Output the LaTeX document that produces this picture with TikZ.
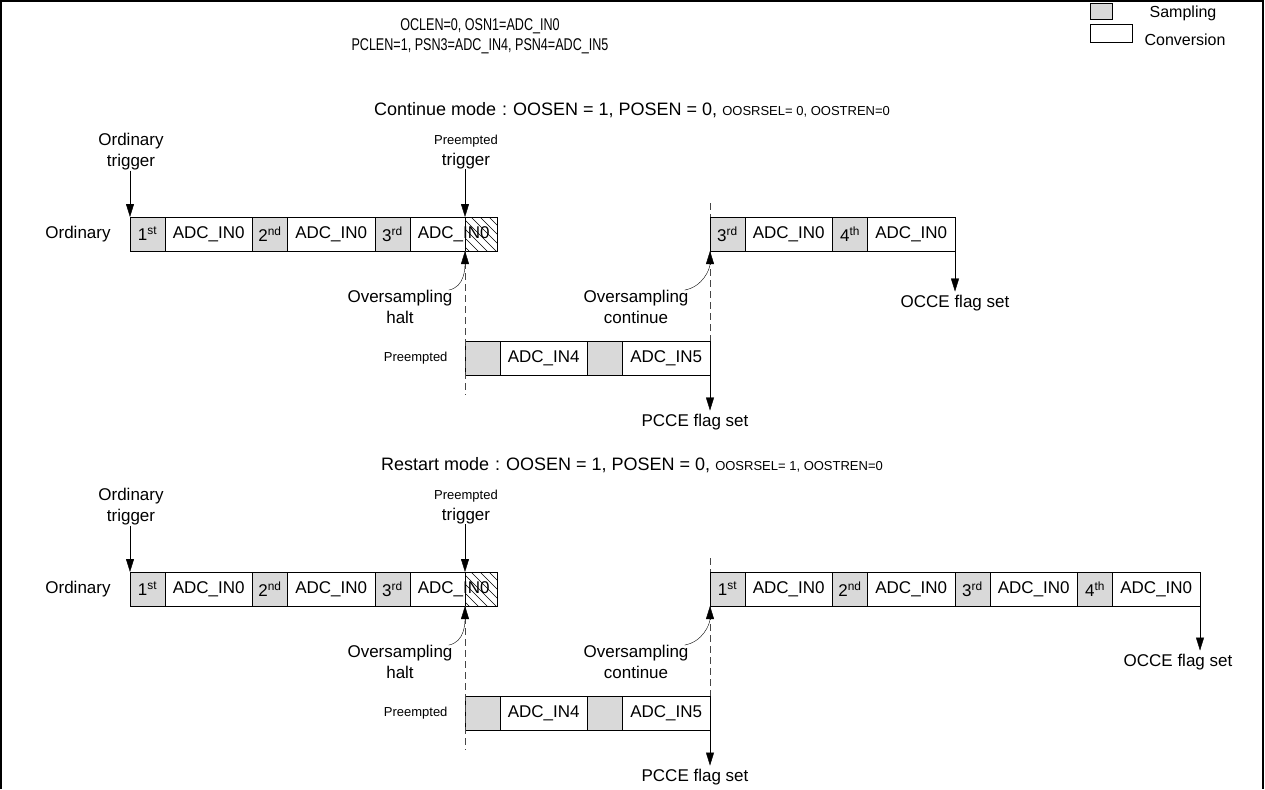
\documentclass[tikz,border=0pt]{standalone}
\usepackage{fontspec}
\setmainfont{Liberation Sans}
\usetikzlibrary{arrows.meta,positioning}
\definecolor{sampgray}{RGB}{217,217,217}
\definecolor{dashgray}{RGB}{70,70,70}
\newcommand{\smalltxt}{\fontsize{13}{15}\selectfont}
\newcommand{\narrowtxt}[1]{\scalebox{0.74}[1]{#1}}
\tikzset{
  cell/.style={draw, outer sep=0pt, inner sep=0pt, minimum height=34pt, anchor=west},
  samp/.style={cell, fill=sampgray, minimum width=35pt},
  conv/.style={cell, fill=white, minimum width=87.5pt},
  hatch/.style={cell, anchor=east, minimum width=32.5pt,
    path picture={\foreach \k in {-30,-21,...,30}
      \draw ([xshift=\k pt]path picture bounding box.north west) -- ++(36,36);}},
  arr/.style={-{Triangle[length=13pt,width=8pt]}},
  halt/.style={dash pattern=on 7pt off 4pt, dashgray},
  lbl/.style={align=center, inner sep=0pt},
  mode/.style={font=\fontsize{18}{21}\selectfont},
}
\begin{document}
\begin{tikzpicture}[x=1pt,y=-1pt,font=\fontsize{17}{21}\selectfont]
\useasboundingbox (0,0) rectangle (1265,789);
\draw[line width=2pt] (1,789) -- (1,1) -- (1263,1) -- (1263,789);

% header and legend
\node[lbl,font=\fontsize{17}{20}\selectfont] (hdr) at (480,36) {\narrowtxt{OCLEN=0, OSN1=ADC\_IN0}\\\narrowtxt{PCLEN=1, PSN3=ADC\_IN4, PSN4=ADC\_IN5}};
\node[draw, fill=sampgray, minimum width=22pt, minimum height=16pt, anchor=north west] (lgs) at (1090,3) {};
\node[draw, minimum width=42pt, minimum height=18pt, anchor=north west] (lgc) at (1090,24) {};
\node[font=\fontsize{16}{19}\selectfont] (lgst) at (1183,13) {Sampling};
\node[font=\fontsize{16}{19}\selectfont] (lgct) at (1185,40) {Conversion};

% continue mode
\node[mode] (mode1) at (632,110) {Continue mode\,\,:\,\,OOSEN = 1, POSEN = 0, {\smalltxt OOSRSEL= 0, OOSTREN=0}};
\node (olab1) at (78,234) {Ordinary};
\node[samp] (a1) at (130,234) {1\textsuperscript{st}};
\node[conv,right=0pt of a1] (a2) {ADC\_IN0};
\node[samp,right=0pt of a2] (a3) {2\textsuperscript{nd}};
\node[conv,right=0pt of a3] (a4) {ADC\_IN0};
\node[samp,right=0pt of a4] (a5) {3\textsuperscript{rd}};
\node[conv,right=0pt of a5] (a6) {ADC\_IN0};
\node[hatch] (h1) at (a6.east) {};

\node[lbl] (otrig1) at (131,152) {Ordinary\\trigger};
\node[lbl] (ptrig1) at (466,152) {{\smalltxt Preempted}\\trigger};
\draw[arr] (otrig1.south -| a1.north west) -- (a1.north west);
\draw[arr] (ptrig1.south -| h1.north west) -- (h1.north west);

\coordinate (d1) at (465,395);
\coordinate (u1) at (710,203);
\node[samp] (p1) at (465,358) {};
\node[conv,right=0pt of p1] (p2) {ADC\_IN4};
\node[samp,right=0pt of p2] (p3) {};
\node[conv,right=0pt of p3] (p4) {ADC\_IN5};
\node[left=14pt of p1] (plab1) {\smalltxt Preempted};
\draw[halt] (h1.south west) -- (d1);
\draw[halt] (u1) -- (p4.north east);

\node[samp] (b1) at (710,234) {3\textsuperscript{rd}};
\node[conv,right=0pt of b1] (b2) {ADC\_IN0};
\node[samp,right=0pt of b2] (b3) {4\textsuperscript{th}};
\node[conv,right=0pt of b3] (b4) {ADC\_IN0};

\node[lbl] (ovh1) at (400,307) {Oversampling\\halt};
\node[lbl] (ovc1) at (636,307) {Oversampling\\continue};
\draw[arr] ([xshift=-4pt]ovh1.north east) to[out=10,in=-90] (h1.south west);
\draw[arr] ([xshift=-4pt]ovc1.north east) to[out=10,in=-90] (b1.south west);

\node (pcce1) at (695,422) {PCCE flag set};
\node (occe1) at (955,303) {OCCE flag set};
\draw[arr] (p4.south east) -- (p4.south east |- pcce1.north);
\draw[arr] (b4.south east) -- (b4.south east |- occe1.north);

% restart mode
\node[mode] (mode2) at (632,465) {Restart mode\,\,:\,\,OOSEN = 1, POSEN = 0, {\smalltxt OOSRSEL= 1, OOSTREN=0}};
\node (olab2) at (78,589) {Ordinary};
\node[samp] (c1) at (130,589) {1\textsuperscript{st}};
\node[conv,right=0pt of c1] (c2) {ADC\_IN0};
\node[samp,right=0pt of c2] (c3) {2\textsuperscript{nd}};
\node[conv,right=0pt of c3] (c4) {ADC\_IN0};
\node[samp,right=0pt of c4] (c5) {3\textsuperscript{rd}};
\node[conv,right=0pt of c5] (c6) {ADC\_IN0};
\node[hatch] (h2) at (c6.east) {};

\node[lbl] (otrig2) at (131,507) {Ordinary\\trigger};
\node[lbl] (ptrig2) at (466,507) {{\smalltxt Preempted}\\trigger};
\draw[arr] (otrig2.south -| c1.north west) -- (c1.north west);
\draw[arr] (ptrig2.south -| h2.north west) -- (h2.north west);

\coordinate (d2) at (465,750);
\coordinate (u2) at (710,558);
\node[samp] (q1) at (465,713) {};
\node[conv,right=0pt of q1] (q2) {ADC\_IN4};
\node[samp,right=0pt of q2] (q3) {};
\node[conv,right=0pt of q3] (q4) {ADC\_IN5};
\node[left=14pt of q1] (plab2) {\smalltxt Preempted};
\draw[halt] (h2.south west) -- (d2);
\draw[halt] (u2) -- (q4.north east);

\node[samp] (e1) at (710,589) {1\textsuperscript{st}};
\node[conv,right=0pt of e1] (e2) {ADC\_IN0};
\node[samp,right=0pt of e2] (e3) {2\textsuperscript{nd}};
\node[conv,right=0pt of e3] (e4) {ADC\_IN0};
\node[samp,right=0pt of e4] (e5) {3\textsuperscript{rd}};
\node[conv,right=0pt of e5] (e6) {ADC\_IN0};
\node[samp,right=0pt of e6] (e7) {4\textsuperscript{th}};
\node[conv,right=0pt of e7] (e8) {ADC\_IN0};

\node[lbl] (ovh2) at (400,662) {Oversampling\\halt};
\node[lbl] (ovc2) at (636,662) {Oversampling\\continue};
\draw[arr] ([xshift=-4pt]ovh2.north east) to[out=10,in=-90] (h2.south west);
\draw[arr] ([xshift=-4pt]ovc2.north east) to[out=10,in=-90] (e1.south west);

\node (pcce2) at (695,777) {PCCE flag set};
\node (occe2) at (1178,662) {OCCE flag set};
\draw[arr] (q4.south east) -- (q4.south east |- pcce2.north);
\draw[arr] (e8.south east) -- (e8.south east |- occe2.north);
\end{tikzpicture}
\end{document}
